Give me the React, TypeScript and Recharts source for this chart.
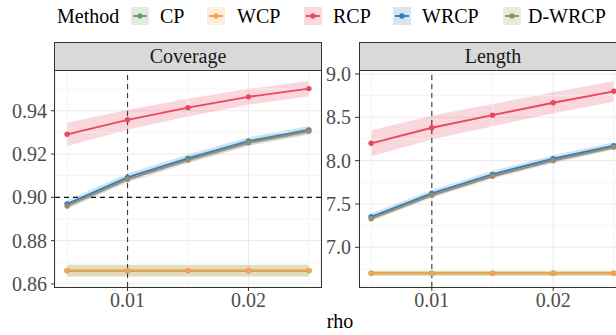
import { ComposedChart, Line, Area, XAxis, YAxis, CartesianGrid, ReferenceLine } from 'recharts'

const rho = [0.005, 0.01, 0.015, 0.02, 0.025]

const methods = ['CP', 'WCP', 'RCP', 'WRCP', 'D-WRCP']
const colors  = ['#63a463', '#f7a44f', '#e9485f', '#2a80c0', '#9c8c6c']

// coverage (mean) and ribbon half-width, per method
const covCP     = [0.8661, 0.8661, 0.8661, 0.8661, 0.8661]
const covWCP    = [0.8662, 0.8662, 0.8662, 0.8662, 0.8662]
const covRCP    = [0.9291, 0.9358, 0.9414, 0.9464, 0.9502]
const covWRCP   = [0.8969, 0.9092, 0.9180, 0.9259, 0.9311]
const covDWRCP  = [0.8960, 0.9083, 0.9172, 0.9252, 0.9305]
const covBand   = [
  [0.0028, 0.0028, 0.0028, 0.0028, 0.0028],
  [0.0025, 0.0025, 0.0025, 0.0025, 0.0025],
  [0.0054, 0.0046, 0.0041, 0.0037, 0.0035],
  [0.0018, 0.0018, 0.0018, 0.0018, 0.0018],
  [0.0015, 0.0015, 0.0015, 0.0015, 0.0015],
]

// interval length (mean) and ribbon half-width, per method
const lenCP     = [6.700, 6.700, 6.700, 6.700, 6.700]
const lenWCP    = [6.701, 6.701, 6.701, 6.701, 6.701]
const lenRCP    = [8.200, 8.380, 8.525, 8.668, 8.800]
const lenWRCP   = [7.352, 7.622, 7.842, 8.022, 8.172]
const lenDWRCP  = [7.330, 7.600, 7.820, 8.000, 8.155]
const lenBand   = [
  [0.030, 0.030, 0.030, 0.030, 0.030],
  [0.028, 0.028, 0.028, 0.028, 0.028],
  [0.150, 0.137, 0.128, 0.122, 0.120],
  [0.040, 0.040, 0.040, 0.040, 0.040],
  [0.030, 0.030, 0.030, 0.030, 0.030],
]

const covTicks = [0.86, 0.88, 0.90, 0.92, 0.94]
const covMinor = [0.87, 0.89, 0.91, 0.93, 0.95]
const lenTicks = [7.0, 7.5, 8.0, 8.5, 9.0]
const lenMinor = [6.75, 7.25, 7.75, 8.25, 8.75]
const xTicks   = [0.01, 0.02]
const xMinor   = [0.005, 0.015, 0.025]

const FONT = 'Liberation Serif'
const serif = { fontFamily: FONT }

function buildRows(series: number[][], bands: number[][]) {
  return rho.map((r, i) => {
    const row: Record<string, any> = { rho: r }
    methods.forEach((m, k) => {
      row[m] = series[k][i]
      row[m + '_band'] = [series[k][i] - bands[k][i], series[k][i] + bands[k][i]]
    })
    return row
  })
}

const covRows = buildRows([covCP, covWCP, covRCP, covWRCP, covDWRCP], covBand)
const lenRows = buildRows([lenCP, lenWCP, lenRCP, lenWRCP, lenDWRCP], lenBand)

interface PanelProps {
  rows: Record<string, any>[]
  width: number
  yWidth: number
  domain: [number, number]
  ticks: number[]
  minor: number[]
  digits: number
  hLine?: number
}

function Panel({ rows, width, yWidth, domain, ticks, minor, digits, hLine }: PanelProps) {
  const tickStyle = { fontSize: 20, fill: '#4d4d4d', style: serif }
  return (
    <ComposedChart width={width} height={335} data={rows} margin={{ top: 70, right: 0, bottom: 18, left: 5 }}>
      <CartesianGrid stroke="#ebebeb" strokeWidth={1.1} />
      {xMinor.map(v => <ReferenceLine key={'xm' + v} x={v} stroke="#f2f2f2" strokeWidth={0.8} />)}
      {minor.map(v => <ReferenceLine key={'ym' + v} y={v} stroke="#f2f2f2" strokeWidth={0.8} ifOverflow="hidden" />)}
      <XAxis dataKey="rho" type="number" domain={[0.004, 0.026]} ticks={xTicks} allowDataOverflow
        tickFormatter={(v: number) => v.toFixed(2)} height={30} tickSize={4} tickMargin={2}
        axisLine={false} tickLine={{ stroke: '#333' }} tick={tickStyle} />
      <YAxis type="number" domain={domain} ticks={ticks} allowDataOverflow width={yWidth}
        tickFormatter={(v: number) => v.toFixed(digits)} tickSize={4} tickMargin={4}
        axisLine={false} tickLine={{ stroke: '#333' }} tick={tickStyle} />
      {methods.map((m, k) => (
        <Area key={'b' + m} dataKey={m + '_band'} type="linear" stroke="none" fill={colors[k]} fillOpacity={0.22}
          isAnimationActive={false} dot={false} activeDot={false} />
      ))}
      <ReferenceLine x={0.01} stroke="#3a3a3a" strokeWidth={1.1} strokeDasharray="5 4" />
      {hLine !== undefined && <ReferenceLine y={hLine} stroke="#111" strokeWidth={1.1} strokeDasharray="5 4" />}
      {methods.map((m, k) => (
        <Line key={'l' + m} dataKey={m} type="linear" stroke={colors[k]} strokeWidth={1.9}
          dot={{ r: 2.7, fill: colors[k], stroke: 'none' }} activeDot={false} isAnimationActive={false} />
      ))}
    </ComposedChart>
  )
}

const keyX  = [131, 207, 304, 393, 503]
const textX = [160, 237, 333, 422, 528]

export default function App() {
  return (
    <div style={{ position: 'absolute', left: 0, top: 0, width: 616, height: 335, overflow: 'hidden', background: '#fff' }}>
      <div style={{ position: 'absolute', left: 0, top: 0 }}>
        <Panel rows={covRows} width={321} yWidth={50} domain={[0.8586, 0.9588]} ticks={covTicks} minor={covMinor} digits={2} hLine={0.9} />
      </div>
      <div style={{ position: 'absolute', left: 310, top: 0 }}>
        <Panel rows={lenRows} width={316} yWidth={44} domain={[6.542, 9.046]} ticks={lenTicks} minor={lenMinor} digits={1} />
      </div>
      <svg width={616} height={335} style={{ position: 'absolute', left: 0, top: 0, pointerEvents: 'none' }}>
        {/* panel borders and strips */}
        <rect x={54.5} y={70.5} width={267} height={217} fill="none" stroke="#333" strokeWidth={1} />
        <rect x={359.5} y={70.5} width={267} height={217} fill="none" stroke="#333" strokeWidth={1} />
        <rect x={54.5} y={42.5} width={267} height={28} fill="#d9d9d9" stroke="#333" strokeWidth={1} />
        <rect x={359.5} y={42.5} width={267} height={28} fill="#d9d9d9" stroke="#333" strokeWidth={1} />
        <text x={188} y={63} fontSize={20} textAnchor="middle" fill="#1a1a1a" style={serif}>Coverage</text>
        <text x={493} y={63} fontSize={20} textAnchor="middle" fill="#1a1a1a" style={serif}>Length</text>
        {/* axis title */}
        <text x={340} y={328} fontSize={20} textAnchor="middle" fill="#000" style={serif}>rho</text>
        {/* legend */}
        <text x={57} y={23} fontSize={20} fill="#000" style={serif}>Method</text>
        {methods.map((m, k) => (
          <g key={m}>
            <rect x={keyX[k]} y={7} width={18} height={18} fill={colors[k]} fillOpacity={0.2} />
            <line x1={keyX[k] + 2} x2={keyX[k] + 16} y1={16} y2={16} stroke={colors[k]} strokeWidth={1.9} />
            <circle cx={keyX[k] + 9} cy={16} r={2.7} fill={colors[k]} />
            <text x={textX[k]} y={23} fontSize={20} fill="#000" style={serif}>{m}</text>
          </g>
        ))}
      </svg>
    </div>
  )
}
